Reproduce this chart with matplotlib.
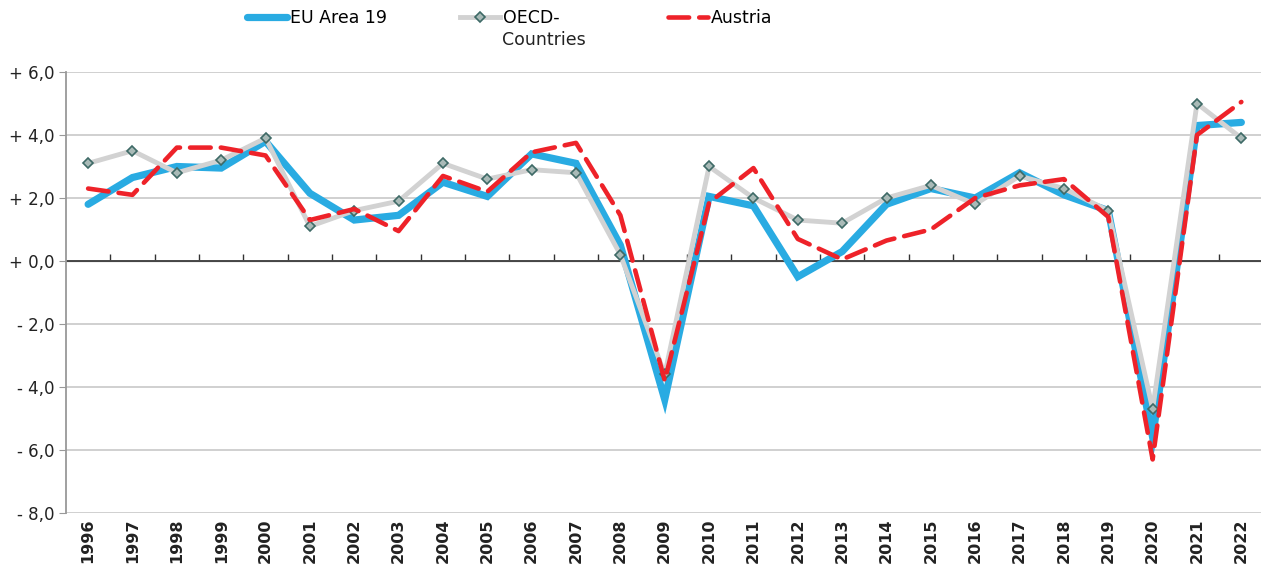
import matplotlib.pyplot as plt
import numpy as np
from matplotlib.lines import Line2D

plt.rcParams.update({
    'font.family': 'DejaVu Sans',
    'font.size': 11,
})

# ── Data: real GDP growth (%) ──
years = list(range(1996, 2023))

eu_area_19 = [1.8, 2.65, 3.0, 2.95, 3.8, 2.15, 1.3, 1.45, 2.5, 2.05,
              3.4, 3.1, 0.5, -4.4, 2.05, 1.75, -0.5, 0.3, 1.8, 2.3,
              2.0, 2.8, 2.1, 1.6, -5.6, 4.3, 4.4]

oecd = [3.1, 3.5, 2.8, 3.2, 3.9, 1.1, 1.6, 1.9, 3.1, 2.6,
        2.9, 2.8, 0.2, -3.6, 3.0, 2.0, 1.3, 1.2, 2.0, 2.4,
        1.8, 2.7, 2.3, 1.6, -4.7, 5.0, 3.9]

austria = [2.3, 2.1, 3.6, 3.6, 3.35, 1.3, 1.65, 0.95, 2.7, 2.2,
           3.45, 3.75, 1.45, -3.8, 1.85, 2.95, 0.7, 0.05, 0.65, 1.0,
           2.0, 2.4, 2.6, 1.4, -6.3, 4.0, 5.05]

y_ticks = [6, 4, 2, 0, -2, -4, -6, -8]

# ── Colours ──
c_eu = '#29ABE2'
c_oecd = '#D2D2D2'
c_at = '#EE2229'
c_grid = '#C8C8C8'

fig = plt.figure(figsize=(12.61, 5.71), dpi=100)
ax = fig.add_axes([0.0523, 0.1016, 0.9497, 0.7723])

x = np.arange(len(years))

ax.plot(x, eu_area_19, color=c_eu, lw=5.2, solid_capstyle='round',
        solid_joinstyle='miter', zorder=3)
ax.plot(x, oecd, color=c_oecd, lw=3.5, marker='D', ms=5.5,
        mfc='#A9BAB7', mec='#3E6A66', mew=1.2, zorder=4)
ax.plot(x, austria, color=c_at, lw=3.3, dashes=(4.5, 2.2),
        dash_capstyle='round', zorder=5)

ax.set_xlim(-0.5, len(years) - 0.5)
ax.set_ylim(-8, 6)

# y axis
ax.set_yticks(y_ticks)
ax.set_yticklabels([('+ ' if v >= 0 else '- ') + f'{abs(v):.1f}'.replace('.', ',')
                    for v in y_ticks])
ax.tick_params(axis='y', length=5, color='#999999', labelsize=12,
               labelcolor='#222222', pad=3)
ax.grid(axis='y', color=c_grid, lw=1.2, zorder=0)
ax.axhline(0, color='#333333', lw=1.2, zorder=2)

# x labels at the bottom, no marks
ax.set_xticks(x)
ax.set_xticklabels(years, rotation=90, fontweight='bold', fontsize=11.5,
                   color='#222222')
ax.tick_params(axis='x', length=0, pad=4)

for side in ['top', 'right', 'bottom']:
    ax.spines[side].set_visible(False)
ax.spines['left'].set_color('#999999')
ax.spines['left'].set_linewidth(1.3)

# category axis crossing at zero, marks between categories
zero_pos = (0 - (-8)) / (6 - (-8))
sec = ax.secondary_xaxis(zero_pos)
sec.set_xticks(x[:-1] + 0.5)
sec.set_xticklabels([])
sec.tick_params(axis='x', length=5, color='#333333', width=1)
sec.spines['bottom'].set_color('#333333')
sec.spines['bottom'].set_linewidth(1.2)

# ── Legend ──
h_eu = Line2D([], [], color=c_eu, lw=5.2, solid_capstyle='round')
h_oecd = Line2D([], [], color=c_oecd, lw=3.5, marker='D', ms=5.5,
                mfc='#A9BAB7', mec='#3E6A66', mew=1.2)
h_at = Line2D([], [], color=c_at, lw=3.3, dashes=(4.5, 2.2),
              dash_capstyle='round')

for h, lab, xpos in [(h_eu, 'EU Area 19', 0.1959),
                     (h_oecd, 'OECD-', 0.3648),
                     (h_at, 'Austria', 0.5297)]:
    fig.legend([h], [lab], loc='upper left', bbox_to_anchor=(xpos, 0.984),
               frameon=False, fontsize=12.5, handlelength=2.3,
               handletextpad=0.2, borderaxespad=0, borderpad=0)
fig.text(0.398, 0.930, 'Countries', fontsize=12.5, color='#222222', va='center')

fig.savefig('out.png', dpi=100)
